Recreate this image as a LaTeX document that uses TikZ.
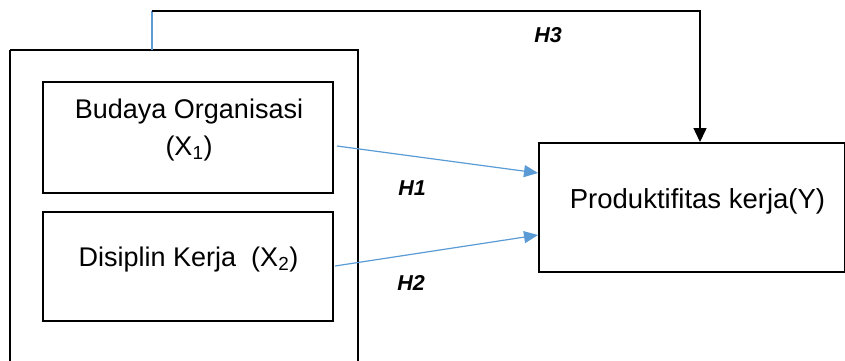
\documentclass[tikz,border=0pt]{standalone}
\usepackage{fontspec}
\setmainfont{Liberation Sans}
\usetikzlibrary{arrows.meta}
\definecolor{linkblue}{RGB}{91,155,213}
\begin{document}
\begin{tikzpicture}[x=1pt,y=-1pt,
  box/.style={draw=black,line width=2pt,inner sep=0pt},
  bigtext/.style={font=\fontsize{27}{37}\selectfont,anchor=base,inner sep=0pt},
  hyp/.style={font=\fontsize{21.5}{24}\selectfont\bfseries\itshape},
  bluelink/.style={draw=linkblue,line width=1.2pt,-{Triangle[length=14pt,width=12pt]}},
  blacklink/.style={draw=black,line width=1.5pt,-{Triangle[length=14pt,width=13pt]}}]
  \useasboundingbox (0,0) rectangle (845,360);
  \begin{scope}
    \clip (0,0) rectangle (845,360);
    % outer frame around both independent variables
    \draw[line width=2pt] (10,50) -- (10,380) (10,50) -- (358,50) -- (358,380);
  \end{scope}
  \coordinate (frametop) at (152,50);
  \coordinate (corner1) at (152,11);
  \coordinate (corner2) at (700,11);
  % independent variables
  \node[box,minimum width=290pt,minimum height=111pt] (x1) at (188,137.5) {};
  \node[bigtext] (t1a) at (189,118) {Budaya Organisasi};
  \node[bigtext] (t1b) at (189,155) {(X\textsubscript{1})};
  \node[box,minimum width=290pt,minimum height=109pt] (x2) at (188,266.5) {};
  \node[bigtext] (t2) at (188.5,266) {Disiplin Kerja\ \ (X\textsubscript{2})};
  % dependent variable
  \node[box,minimum width=306pt,minimum height=129pt] (y) at (692,207.5) {};
  \node[bigtext,font=\fontsize{27.5}{33}\selectfont] (ty) at (697.5,208) {Produktifitas kerja(Y)};
  % hypothesis paths
  \draw[bluelink] (337,146) -- (y.west |- 0,173);
  \draw[bluelink] (335,266) -- (y.west |- 0,235);
  \draw[draw=linkblue,line width=1.2pt] (frametop) -- (corner1);
  \draw[blacklink] (corner1) -- (corner2) -- (y.north -| corner2);
  \node[hyp] (h1) at (412,188) {H1};
  \node[hyp] (h2) at (411,283) {H2};
  \node[hyp] (h3) at (548,35) {H3};
\end{tikzpicture}
\end{document}
